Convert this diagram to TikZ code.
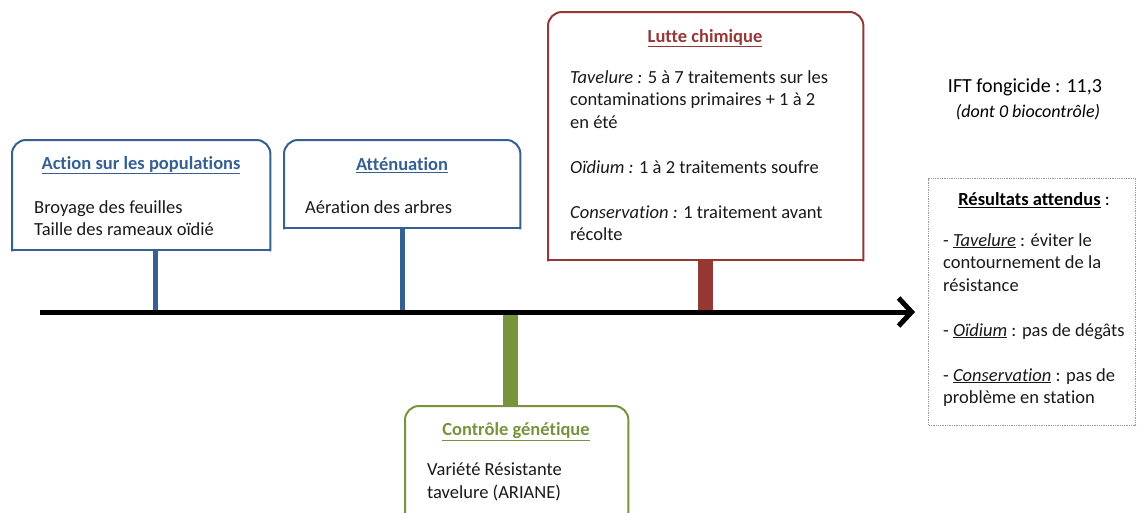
\documentclass[tikz,border=0pt]{standalone}
\usepackage{fontspec}
\setmainfont{Carlito}[Ligatures=NoCommon]
\usetikzlibrary{arrows.meta}

\definecolor{popblue}{RGB}{54,96,146}
\definecolor{chemred}{RGB}{149,55,53}
\definecolor{genegreen}{RGB}{119,147,60}
\definecolor{bodygray}{RGB}{25,25,25}

\begin{document}
\begin{tikzpicture}[x=1pt,y=-1pt]

  \useasboundingbox (0,0) rectangle (1137,512);

  % node styles
  \tikzstyle{Frame}=[
  anchor=north west,
  inner sep=0,
  shape=rectangle]

  \tikzstyle{Outline}=[line width=2pt,line cap=rect,rounded corners=14pt]
  \tikzstyle{Title}=[font=\fontsize{18.5}{22}\selectfont\bfseries,inner sep=0]
  \tikzstyle{Body}=[anchor=north west,align=left,inner sep=0,text=bodygray,
  font=\fontsize{18.5}{22.5}\selectfont]
  \tikzstyle{Stem}=[line width=5pt]
  \tikzstyle{WideStem}=[line width=15pt]

  % the four boxes
  \node[Frame,minimum width=258,minimum height=110] (P) at ( 12,140) {};
  \node[Frame,minimum width=236,minimum height=88]  (A) at (284,140) {};
  \node[Frame,minimum width=315,minimum height=248] (C) at (548, 12) {};
  \node[Frame,minimum width=223,minimum height=130] (G) at (405,406) {};

  \draw[popblue,Outline] (P.south west) -- (P.north west) -- (P.north east) -- (P.south east);
  \draw[popblue,Outline,sharp corners] (P.south west) -- (P.south east);
  \draw[popblue,Outline] (A.south west) -- (A.north west) -- (A.north east) -- (A.south east);
  \draw[popblue,Outline,sharp corners] (A.south west) -- (A.south east);
  \draw[chemred,Outline] (C.south west) -- (C.north west) -- (C.north east) -- (C.south east);
  \draw[chemred,Outline,sharp corners] (C.south west) -- (C.south east);
  \draw[genegreen,Outline] (G.south west) -- (G.north west) -- (G.north east) -- (G.south east);

  % titles
  \node[Title,text=popblue]   (Pt) at (141,165) {\underline{Action sur les populations}};
  \node[Title,text=popblue]   (At) at (402,165) {\underline{Atténuation}};
  \node[Title,text=chemred]   (Ct) at (705, 38) {\underline{Lutte chimique}};
  \node[Title,text=genegreen] (Gt) at (516,432) {\underline{Contrôle génétique}};

  % texts
  \node[Body] (Pb) at ( 34,200) {Broyage des feuilles\\Taille des rameaux oïdié};
  \node[Body] (Ab) at (305,200) {Aération des arbres};
  \node[Body] (Cb) at (570, 70) {\textit{Tavelure :} 5 à 7 traitements sur les\\
    contaminations primaires + 1 à 2\\en été\\[22.5pt]
    \textit{Oïdium :} 1 à 2 traitements soufre\\[22.5pt]
    \textit{Conservation :} 1 traitement avant\\récolte};
  \node[Body] (Gb) at (427,463) {Variété Résistante\\tavelure (ARIANE)};

  % stems and time line
  \coordinate (T0) at ( 40,312);
  \coordinate (T1) at (915,312);
  \coordinate (t1) at (155,312);
  \coordinate (t2) at (402,312);
  \coordinate (t3) at (705,312);
  \coordinate (t4) at (510,312);

  \draw[popblue,Stem] (t1 |- P.south) -- (t1);
  \draw[popblue,Stem] (t2 |- A.south) -- (t2);
  \draw[chemred,WideStem] (t3 |- C.south) -- (t3);
  \draw[genegreen,WideStem] (t4) -- (t4 |- G.north);

  \draw[line width=5pt,-{Straight Barb[length=13pt,width=28pt,line width=5pt]}] (T0) -- (T1);

  % IFT and expected results
  \node[font=\fontsize{20}{24}\selectfont] (IFT) at (1025,87) {IFT fongicide : 11,3};
  \node[font=\fontsize{18}{22}\selectfont\itshape] (Bio) at (1028,112) {(dont 0 biocontrôle)};

  \node[Frame,draw=gray!80,densely dotted,line width=1.3pt,
  minimum width=207,minimum height=247] (R) at (928,178) {};
  \node[inner sep=0,font=\fontsize{18.5}{22}\selectfont] (Rt) at (1034,200)
  {\textbf{\underline{Résultats attendus}} :};
  \node[Body] (Rb) at (943,233) {- \underline{\textit{Tavelure}} : éviter le\\
    contournement de la\\résistance\\[22.5pt]
    - \underline{\textit{Oïdium}} : pas de dégâts\\[22.5pt]
    - \underline{\textit{Conservation}} : pas de\\problème en station};

\end{tikzpicture}
\end{document}
